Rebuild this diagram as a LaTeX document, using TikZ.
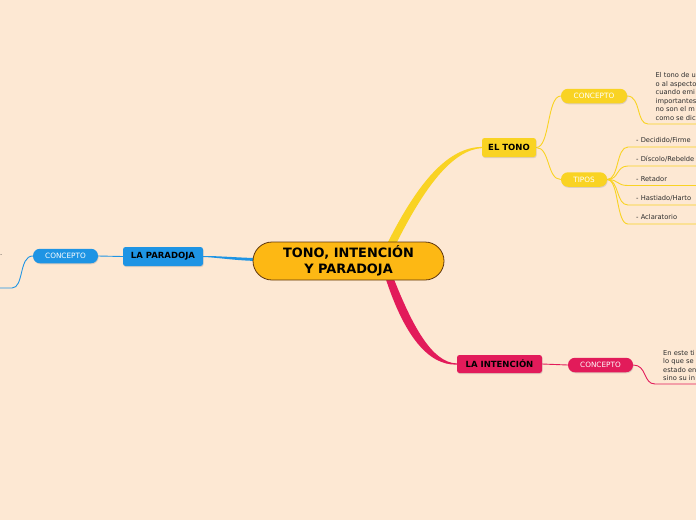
\documentclass[tikz,border=0pt]{standalone}
\usepackage{fontspec}
\setmainfont{DejaVu Sans}
\usetikzlibrary{shadows,backgrounds}
\definecolor{fondo}{RGB}{253,232,211}
\definecolor{raiz}{RGB}{253,184,20}
\definecolor{borde}{RGB}{95,55,15}
\definecolor{amarillo}{RGB}{249,211,35}
\definecolor{carmin}{RGB}{226,27,90}
\definecolor{azul}{RGB}{30,148,228}
\definecolor{nota}{RGB}{45,45,45}
\tikzset{
  rama/.style={rounded corners=2.5pt, inner sep=0pt, minimum height=19pt, text=black,
    font=\fontsize{8.5}{9}\selectfont\bfseries,
    drop shadow={opacity=.25, shadow xshift=.6pt, shadow yshift=-1pt}},
  pastilla/.style={rounded corners=7pt, inner sep=0pt, minimum height=14.5pt, text=white,
    font=\fontsize{7.3}{9}\selectfont,
    drop shadow={opacity=.25, shadow xshift=.6pt, shadow yshift=-1pt}},
  notatxt/.style={anchor=west, align=left, inner sep=0pt, text=nota,
    font=\fontsize{6.7}{8.5}\selectfont},
  fina/.style={line width=.9pt}
}
\begin{document}
\begin{tikzpicture}[x=1pt, y=-1pt]
\useasboundingbox (0,0) rectangle (696,520);

% central topic and main branches
\node[fill=raiz, draw=borde, line width=.8pt, rounded corners=19pt, minimum width=191pt, minimum height=38pt,
  inner sep=0pt, align=center, font=\fontsize{12.9}{15.5}\selectfont\bfseries] (tema) at (348.5,261)
{TONO, INTENCIÓN\\Y PARADOJA};
\node[rama, fill=amarillo, minimum width=54pt] (tono) at (509,147.5) {EL TONO};
\node[rama, fill=carmin, minimum width=85pt, minimum height=18pt] (intencion) at (499.5,364) {LA INTENCIÓN};
\node[rama, fill=azul, minimum width=80pt] (paradoja) at (163,256.5) {LA PARADOJA};

% sub topics
\node[pastilla, fill=amarillo, minimum width=66pt] (conctono) at (594,96) {CONCEPTO};
\node[pastilla, fill=amarillo, minimum width=46pt] (tipos) at (584,179.5) {TIPOS};
\node[pastilla, fill=carmin, minimum width=65pt] (concint) at (600.5,365) {CONCEPTO};
\node[pastilla, fill=azul, minimum width=65pt] (concpar) at (65.5,256) {CONCEPTO};

% notes
\node[notatxt] (notatono) at (655.5,96.5)
{El tono de u\\o al aspecto\\cuando emi\\importantes\\no son el m\\como se dic};
\node[notatxt] (notaint) at (663,365.5) {En este ti\\lo que se\\estado en\\sino su in};
\node[notatxt, anchor=east] (notapar) at (2.5,255) {.};
\node[notatxt] (tipo1) at (636,140) {- Decidido/Firme};
\node[notatxt] (tipo2) at (636,159) {- Díscolo/Rebelde};
\node[notatxt] (tipo3) at (636,178.5) {- Retador};
\node[notatxt] (tipo4) at (636,198) {- Hastiado/Harto};
\node[notatxt] (tipo5) at (636,217) {- Aclaratorio};

\coordinate (fintono) at (648,124);
\coordinate (bordetono) at (696,124);
\coordinate (finint) at (655,384);
\coordinate (bordeint) at (696,384);
\coordinate (finpar) at (12,288);
\coordinate (bordepar) at (0,288);
\coordinate (t1) at (628,147);
\coordinate (t2) at (628,166);
\coordinate (t3) at (628,185.5);
\coordinate (t4) at (628,205);
\coordinate (t5) at (628,224);

\begin{scope}[on background layer]
\fill[fondo] (0,0) rectangle (696,520);
% tapered main connectors
\fill[amarillo] (387,244) .. controls (418,182) and (448,147.3) .. ([yshift=.6pt]tono.west)
  -- ([yshift=-.6pt]tono.west) .. controls (452,150) and (424,188) .. (396,244) -- cycle;
\fill[carmin] (385.5,278) .. controls (404,335) and (428,365.6) .. ([yshift=-.6pt]intencion.west)
  -- ([yshift=.6pt]intencion.west) .. controls (432,363) and (412,325) .. (393.5,278) -- cycle;
\fill[azul] (258,258.2) .. controls (235,257.4) and (215,255.8) .. ([yshift=.5pt]paradoja.east)
  -- ([yshift=-.5pt]paradoja.east) .. controls (215,257.2) and (235,260.6) .. (258,261) -- cycle;
% thin connectors
\draw[fina, amarillo] (tono.east) .. controls +(14,0) and +(-14,0) .. (conctono.west);
\draw[fina, amarillo] (tono.east) .. controls +(14,0) and +(-14,0) .. (tipos.west);
\draw[fina, amarillo] (conctono.east) .. controls +(14,0) and +(-12,0) .. (fintono) -- (bordetono);
\draw[fina, amarillo] (tipos.east) .. controls +(12,0) and +(-12,0) .. (t1) -- (t1 -| bordetono);
\draw[fina, amarillo] (tipos.east) .. controls +(12,0) and +(-12,0) .. (t2) -- (t2 -| bordetono);
\draw[fina, amarillo] (tipos.east) .. controls +(12,0) and +(-12,0) .. (t3) -- (t3 -| bordetono);
\draw[fina, amarillo] (tipos.east) .. controls +(12,0) and +(-12,0) .. (t4) -- (t4 -| bordetono);
\draw[fina, amarillo] (tipos.east) .. controls +(12,0) and +(-12,0) .. (t5) -- (t5 -| bordetono);
\draw[fina, carmin] (intencion.east) -- (concint.west);
\draw[fina, carmin] (concint.east) .. controls +(14,0) and +(-12,0) .. (finint) -- (bordeint);
\draw[fina, azul] (paradoja.west) -- (concpar.east);
\draw[fina, azul] (concpar.west) .. controls +(-14,0) and +(12,0) .. (finpar) -- (bordepar);
\end{scope}
\end{tikzpicture}
\end{document}
